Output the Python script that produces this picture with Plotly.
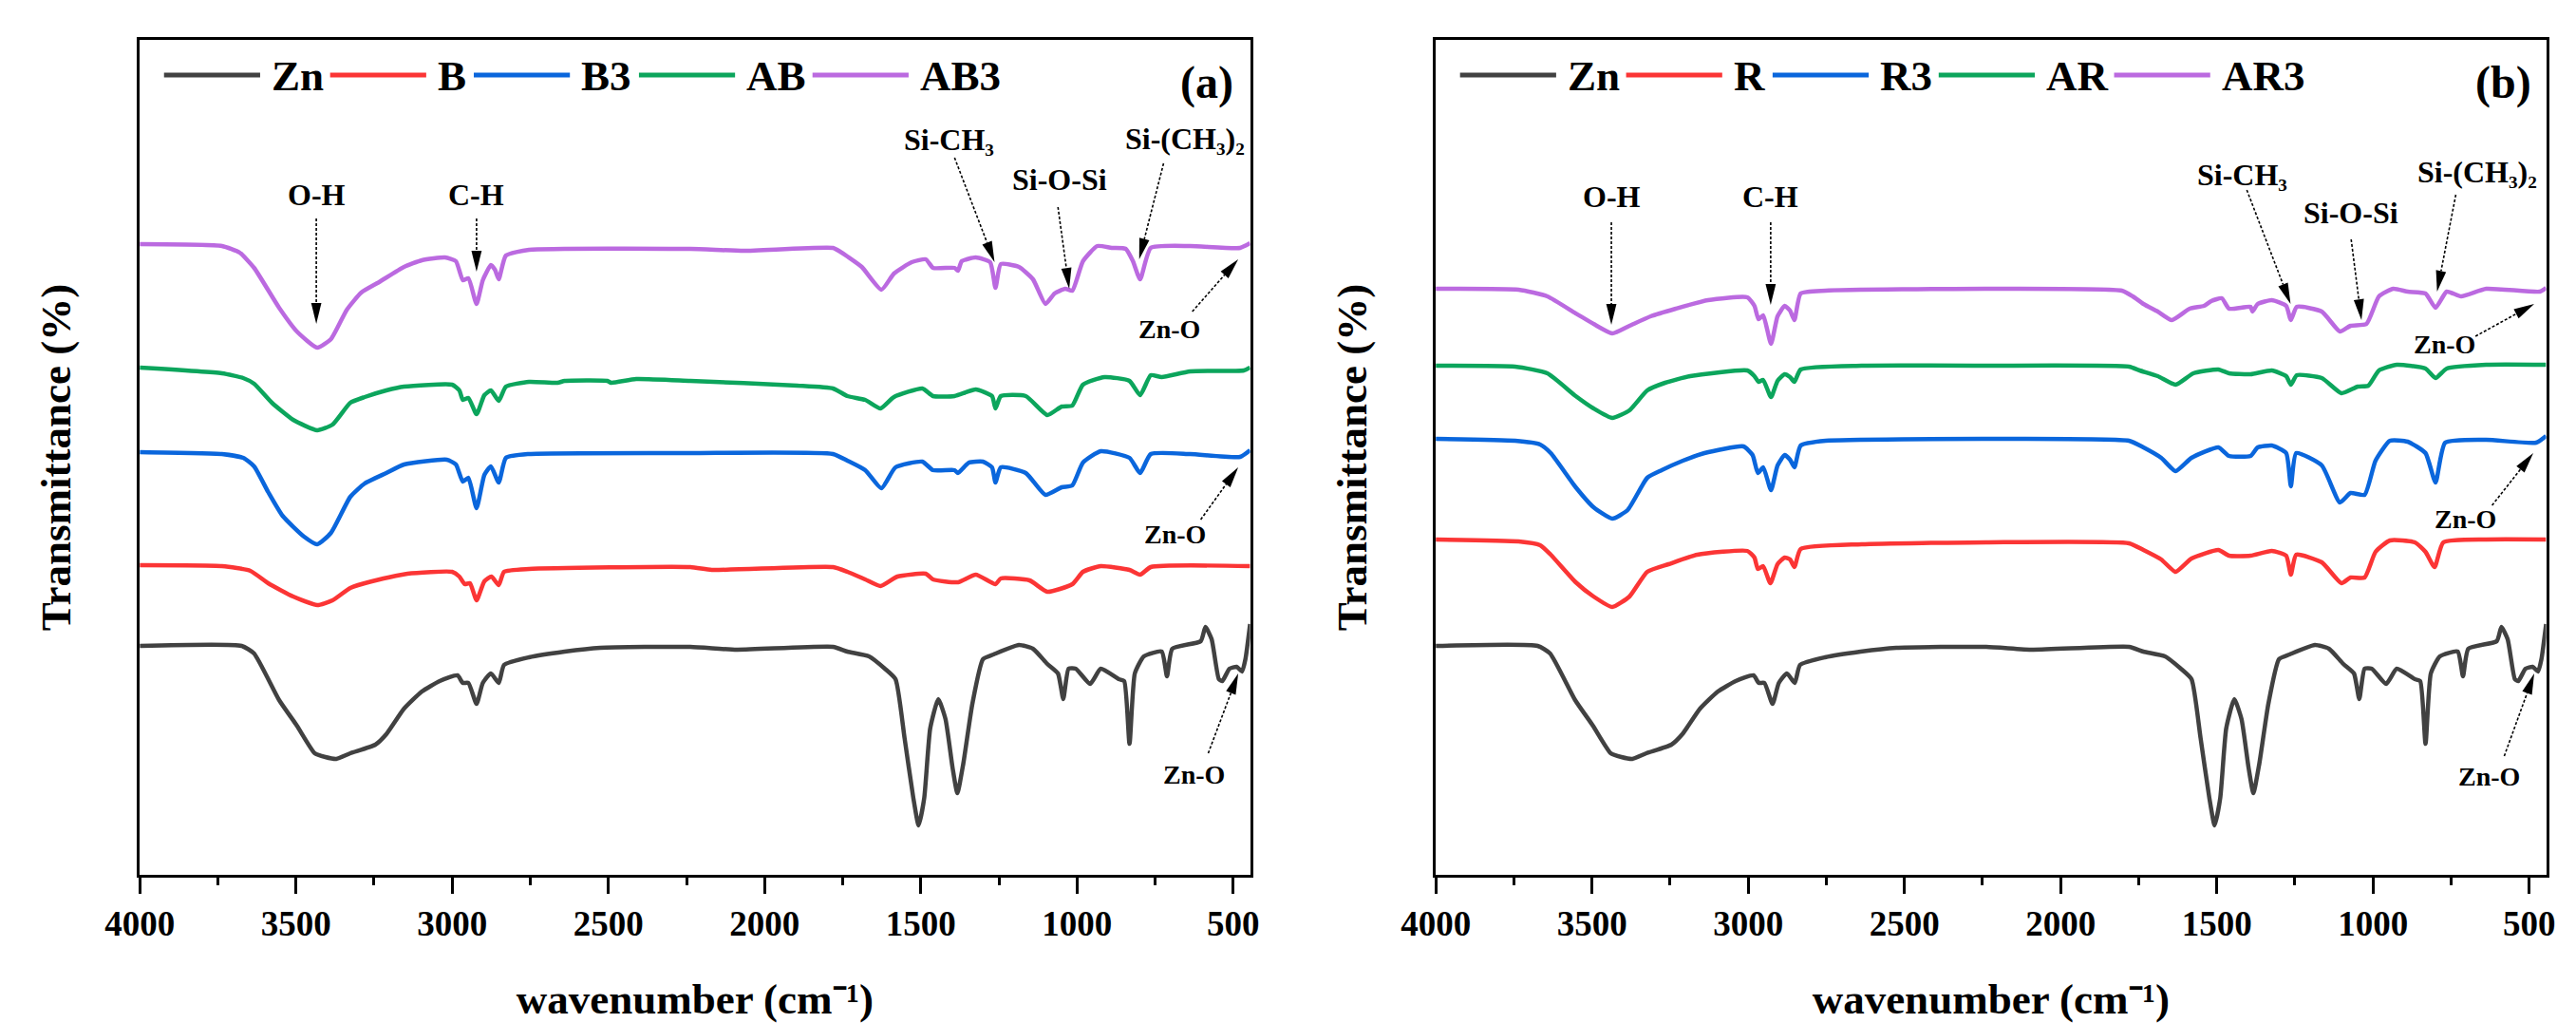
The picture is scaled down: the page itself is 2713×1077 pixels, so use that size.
import plotly.graph_objects as go

# FTIR spectra: wavenumber (cm-1) and offset transmittance (a.u.)
zn_wn = [4000, 3674, 3634, 3554, 3497, 3440, 3406, 3371, 3326, 3246, 3211, 3154, 3097, 3040, 2983,
         2966, 2948, 2922, 2902, 2876, 2851, 2834, 2754, 2640, 2526, 2238, 2089, 1781, 1735, 1666,
         1615, 1581, 1552, 1524, 1507, 1489, 1470, 1444, 1421, 1398, 1383, 1364, 1335, 1301, 1267,
         1186, 1141, 1095, 1061, 1044, 1027, 1004, 958, 924, 866, 849, 832, 815, 786, 729, 712, 695,
         604, 589, 569, 546, 535, 512, 489, 472, 461, 446]
zn_t = [241, 241, 233, 184, 157, 128, 124, 122, 128, 137, 148, 175, 193, 204, 210,
        202, 202, 180, 202, 212, 202, 221, 229, 235, 239, 240, 237, 240, 235, 230,
        217, 206, 144, 81, 52, 81, 154, 185, 164, 112, 86, 117, 180, 227, 232,
        242, 238, 222, 212, 185, 217, 217, 201, 217, 206, 204, 138, 212, 230, 235, 209, 238,
        246, 261, 248, 206, 204, 217, 219, 214, 227, 264]

b_wn = [4000, 3737, 3646, 3589, 3509, 3432, 3383, 3326, 3257, 3143, 3000, 2977, 2960, 2943, 2922,
        2897, 2874, 2851, 2834, 2754, 2238, 2169, 1781, 1735, 1678, 1629, 1575, 1484, 1461, 1381,
        1324, 1261, 1244, 1152, 1095, 1015, 981, 924, 832, 798, 764, 446]
b_t = [326, 325, 320, 307, 293, 284, 289, 302, 309, 317, 319, 314, 306, 307, 289,
       309, 314, 305, 319, 322, 324, 321, 324, 319, 311, 304, 314, 317, 311, 308,
       316, 306, 312, 310, 298, 306, 319, 325, 321, 316, 324, 325]

b3_wn = [4000, 3737, 3669, 3634, 3589, 3543, 3474, 3432, 3388, 3326, 3280, 3211, 3154, 3017, 2988,
         2966, 2948, 2922, 2897, 2876, 2851, 2828, 2754, 2238, 1781, 1735, 1678, 1626, 1581, 1495,
         1461, 1392, 1381, 1346, 1301, 1272, 1261, 1244, 1164, 1101, 1049, 1015, 981, 924, 832,
         798, 764, 638, 478, 446]
b3_t = [445, 443, 439, 430, 403, 378, 356, 348, 360, 398, 412, 423, 432, 437, 432,
        414, 418, 386, 421, 430, 413, 439, 443, 444, 443, 436, 426, 407, 429, 435,
        426, 426, 423, 434, 435, 429, 413, 429, 423, 400, 408, 410, 434, 446, 439,
        423, 443, 443, 440, 447]

ab_wn = [4000, 3737, 3669, 3634, 3577, 3509, 3432, 3383, 3326, 3280, 3211, 3154, 3000, 2977, 2966,
         2948, 2922, 2897, 2876, 2851, 2828, 2754, 2663, 2640, 2503, 2491, 2411, 2238, 1895, 1781,
         1735, 1678, 1629, 1586, 1495, 1461, 1392, 1324, 1272, 1261, 1244, 1164, 1095, 1049, 1015,
         981, 912, 832, 798, 764, 729, 638, 466, 446]
ab_t = [534, 528, 523, 517, 497, 479, 468, 474, 497, 503, 510, 514, 516, 510, 500,
        502, 485, 505, 510, 499, 514, 519, 518, 520, 520, 518, 522, 520, 515, 512,
        504, 500, 491, 503, 512, 504, 504, 511, 504, 491, 504, 504, 484, 493, 494,
        516, 524, 520, 505, 526, 524, 530, 531, 534]

ab3_wn = [4000, 3737, 3680, 3634, 3554, 3497, 3432, 3388, 3337, 3291, 3234, 3154, 3097, 3023, 2988,
          2966, 2948, 2922, 2902, 2876, 2863, 2851, 2828, 2754, 2238, 2067, 1781, 1758, 1735, 1689,
          1626, 1586, 1529, 1484, 1461, 1392, 1381, 1369, 1324, 1278, 1261, 1244, 1186, 1141, 1101,
          1072, 1038, 1015, 981, 935, 889, 844, 821, 798, 764, 638, 478, 446]
ab3_t = [664, 662, 655, 639, 597, 572, 555, 564, 595, 613, 624, 640, 647, 650, 646,
         626, 628, 601, 626, 642, 637, 627, 652, 658, 659, 657, 660, 656, 651, 640,
         616, 633, 645, 648, 639, 639, 636, 646, 650, 645, 618, 643, 640, 627, 601,
         612, 617, 615, 646, 662, 660, 659, 646, 627, 660, 662, 660, 665]

r_wn = [4000, 3735, 3666, 3632, 3552, 3495, 3435, 3380, 3323, 3255, 3163, 3003, 2980, 2969, 2952,
        2929, 2906, 2883, 2866, 2852, 2832, 2637, 2238, 1781, 1735, 1678, 1632, 1581, 1495, 1461,
        1392, 1324, 1278, 1263, 1246, 1164, 1101, 1072, 1027, 992, 946, 866, 832, 803, 775, 638, 446]
r_t = [353, 351, 347, 337, 308, 293, 282, 293, 319, 327, 337, 341, 334, 322, 325,
       307, 327, 334, 332, 324, 343, 348, 350, 349, 342, 332, 319, 333, 342, 336,
       336, 341, 336, 316, 337, 329, 307, 313, 313, 340, 352, 350, 340, 324, 350, 353, 353]

r3_wn = [4000, 3746, 3666, 3632, 3552, 3495, 3435, 3386, 3323, 3277, 3209, 3140, 3015, 2986, 2969,
         2952, 2927, 2906, 2883, 2866, 2852, 2832, 2752, 2238, 1781, 1735, 1678, 1632, 1581, 1495,
         1461, 1392, 1369, 1324, 1278, 1263, 1246, 1164, 1106, 1072, 1027, 992, 946, 889, 832,
         800, 769, 638, 478, 446]
r3_t = [459, 457, 453, 444, 408, 387, 375, 384, 418, 426, 436, 444, 451, 442, 423,
        429, 405, 431, 442, 437, 429, 452, 457, 459, 457, 450, 439, 425, 439, 450,
        441, 441, 450, 452, 444, 409, 444, 431, 392, 402, 400, 436, 457, 456, 444,
        413, 455, 458, 455, 462]

ar_wn = [4000, 3746, 3643, 3552, 3495, 3435, 3380, 3323, 3266, 3186, 3003, 2980, 2967, 2952, 2927,
         2906, 2883, 2866, 2852, 2832, 2637, 2238, 1781, 1747, 1689, 1632, 1575, 1495, 1461, 1392,
         1324, 1278, 1263, 1244, 1164, 1101, 1049, 1015, 981, 924, 832, 800, 764, 638, 446]
ar_t = [536, 535, 528, 504, 491, 481, 489, 510, 518, 525, 531, 525, 519, 521, 503,
        520, 527, 524, 519, 532, 536, 536, 535, 531, 525, 516, 528, 532, 528, 527,
        531, 525, 516, 526, 523, 507, 514, 515, 531, 537, 533, 523, 533, 537, 537]

ar3_wn = [4000, 3735, 3643, 3552, 3495, 3435, 3380, 3312, 3232, 3129, 3003, 2980, 2967, 2952, 2927,
          2906, 2883, 2866, 2852, 2832, 2752, 2238, 1804, 1769, 1735, 1689, 1644, 1587, 1541, 1518,
          1484, 1461, 1392, 1386, 1369, 1324, 1278, 1263, 1244, 1164, 1106, 1072, 1021, 981, 935,
          889, 832, 800, 764, 718, 638, 466, 446]
ar3_t = [617, 616, 609, 591, 580, 570, 578, 588, 596, 605, 608, 599, 585, 589, 559,
         588, 599, 594, 584, 612, 615, 617, 615, 609, 601, 593, 584, 596, 599, 604,
         607, 596, 598, 593, 601, 605, 599, 584, 598, 593, 572, 578, 580, 609, 617,
         614, 612, 597, 614, 609, 617, 614, 618]

tick_vals = [4000, 3500, 3000, 2500, 2000, 1500, 1000, 500]
tick_text = ["4000", "3500", "3000", "2500", "2000", "1500", "1000", "500"]
minor_vals = [3750, 3250, 2750, 2250, 1750, 1250, 750]

# band labels: text, text position, arrow tail, arrow tip (data units), font size
bands_a = [
    ("O-H", (3435, 716), (3435, 691), (3435, 580), 32),
    ("C-H", (2922, 716), (2922, 691), (2922, 635), 32),
    ("Si-CH\u2083", (1410, 774), (1392, 755), (1264, 645), 32),
    ("Si-O-Si", (1055, 732), (1061, 703), (1025, 617), 32),
    ("Si-(CH\u2083)\u2082", (655, 775), (723, 749), (801, 648), 32),
    ("Zn-O", (705, 575), (631, 593), (484, 648), 28),
    ("Zn-O", (687, 359), (604, 374), (484, 429), 28),
    ("Zn-O", (625, 106), (580, 128), (484, 212), 28),
]
bands_b = [
    ("O-H", (3438, 714), (3438, 687), (3438, 579), 32),
    ("C-H", (2928, 714), (2928, 687), (2928, 600), 32),
    ("Si-CH\u2083", (1419, 737), (1404, 721), (1264, 601), 32),
    ("Si-O-Si", (1070, 697), (1070, 669), (1037, 584), 32),
    ("Si-(CH\u2083)\u2082", (667, 740), (735, 716), (795, 614), 32),
    ("Zn-O", (771, 559), (672, 567), (484, 601), 28),
    ("Zn-O", (705, 375), (619, 389), (487, 444), 28),
    ("Zn-O", (628, 104), (580, 125), (484, 212), 28),
]

GREY, RED, BLUE, GREEN, PURPLE = "#414141", "#fb3535", "#0a66dc", "#0ca55c", "#bb6ae0"

panels = {
    "a": {
        "series": [("Zn", zn_wn, zn_t, GREY), ("B", b_wn, b_t, RED), ("B3", b3_wn, b3_t, BLUE),
                   ("AB", ab_wn, ab_t, GREEN), ("AB3", ab3_wn, ab3_t, PURPLE)],
        "bands": bands_a, "left": 104, "axes": ("x", "y"),
        "legend_x": [26, 204, 358, 535, 721],
    },
    "b": {
        "series": [("Zn", zn_wn, zn_t, GREY), ("R", r_wn, r_t, RED), ("R3", r3_wn, r3_t, BLUE),
                   ("AR", ar_wn, ar_t, GREEN), ("AR3", ar3_wn, ar3_t, PURPLE)],
        "bands": bands_b, "left": 1493, "axes": ("x2", "y2"),
        "legend_x": [26, 204, 361, 539, 727],
    },
}

W, H = 2713, 1077
X_RANGE = [4000, 446]
Y_RANGE = [0, 879]
TOP, BOTTOM, PANEL_W = 34, 913, 1190
FONT = "Liberation Serif"


def to_px(left, wn, t):
    x = left + (X_RANGE[0] - wn) / (X_RANGE[0] - X_RANGE[1]) * PANEL_W
    y = BOTTOM - (t - Y_RANGE[0]) / (Y_RANGE[1] - Y_RANGE[0]) * (BOTTOM - TOP)
    return x, y


def paper(x, y):
    return x / W, 1 - y / H


fig = go.Figure()
shapes, annotations = [], []

for key, p in panels.items():
    xa, ya = p["axes"]
    left = p["left"]
    for name, wn, t, col in p["series"]:
        fig.add_trace(go.Scatter(x=wn, y=t, mode="lines", name=name, xaxis=xa, yaxis=ya,
                                 line=dict(color=col, width=4.5, shape="spline", smoothing=0.5),
                                 showlegend=False))

    # legend row drawn by hand so the line samples are as long as in the original
    for (name, _, _, col), dx in zip(p["series"], p["legend_x"]):
        x0 = left + dx
        a0, b0 = paper(x0, 71)
        a1, _ = paper(x0 + 103, 71)
        shapes.append(dict(type="line", xref="paper", yref="paper", x0=a0, x1=a1, y0=b0, y1=b0,
                           line=dict(color=col, width=5)))
        tx, ty = paper(x0 + 113, 72)
        annotations.append(dict(text=name, xref="paper", yref="paper", x=tx, y=ty,
                                xanchor="left", yanchor="middle", showarrow=False,
                                font=dict(size=45, family=FONT, weight="bold", color="black")))

    lx, ly = paper(left + PANEL_W - 46, 79)
    annotations.append(dict(text="(%s)" % key, xref="paper", yref="paper", x=lx, y=ly,
                            xanchor="center", yanchor="middle", showarrow=False,
                            font=dict(size=48, family=FONT, weight="bold", color="black")))

    for text, pos, tail, tip, size in p["bands"]:
        annotations.append(dict(text=text, xref=xa, yref=ya, x=pos[0], y=pos[1],
                                xanchor="center", yanchor="middle", showarrow=False,
                                font=dict(size=size, family=FONT, weight="bold", color="black")))
        sx, sy = to_px(left, *tail)
        ex, ey = to_px(left, *tip)
        d = ((ex - sx) ** 2 + (ey - sy) ** 2) ** 0.5
        ux, uy = (ex - sx) / d, (ey - sy) / d
        bx, by = ex - ux * 22, ey - uy * 22
        nx, ny = -uy * 5.5, ux * 5.5
        p0, p1 = paper(sx, sy), paper(bx, by)
        shapes.append(dict(type="line", xref="paper", yref="paper", x0=p0[0], y0=p0[1],
                           x1=p1[0], y1=p1[1], line=dict(color="black", width=1.6, dash="3px,2px")))
        pts = [paper(ex, ey), paper(bx + nx, by + ny), paper(bx - nx, by - ny)]
        path = "M%.5f,%.5f L%.5f,%.5f L%.5f,%.5f Z" % (pts[0] + pts[1] + pts[2])
        shapes.append(dict(type="path", xref="paper", yref="paper", path=path,
                           fillcolor="black", line=dict(width=0)))


def xaxis_cfg(left):
    return dict(domain=[left / W, (left + PANEL_W) / W], range=X_RANGE,
                tickmode="array", tickvals=tick_vals, ticktext=tick_text,
                ticks="outside", ticklen=17, tickwidth=3, tickcolor="black",
                minor=dict(tickmode="array", tickvals=minor_vals, ticks="outside",
                           ticklen=8, tickwidth=3, tickcolor="black"),
                showline=True, linewidth=3, linecolor="black", mirror=True,
                showgrid=False, zeroline=False, ticklabelstandoff=0,
                tickfont=dict(size=37, family=FONT, weight="bold", color="black"),
                title=dict(text="wavenumber (cm\u207b\u00b9)", standoff=44,
                           font=dict(size=45, family=FONT, weight="bold", color="black")))


def yaxis_cfg():
    return dict(domain=[1 - BOTTOM / H, 1 - TOP / H], range=Y_RANGE,
                showticklabels=False, ticks="", showgrid=False, zeroline=False,
                showline=True, linewidth=3, linecolor="black", mirror=True,
                title=dict(text="Transmittance (%)", standoff=56,
                           font=dict(size=45, family=FONT, weight="bold", color="black")))


fig.update_layout(
    width=W, height=H,
    margin=dict(l=0, r=0, t=0, b=0),
    paper_bgcolor="white", plot_bgcolor="white",
    font=dict(family=FONT, weight="bold", color="black"),
    xaxis=dict(xaxis_cfg(104), anchor="y"),
    yaxis=dict(yaxis_cfg(), anchor="x"),
    xaxis2=dict(xaxis_cfg(1493), anchor="y2"),
    yaxis2=dict(yaxis_cfg(), anchor="x2"),
    shapes=shapes, annotations=annotations,
)

fig.write_html("out.html")
